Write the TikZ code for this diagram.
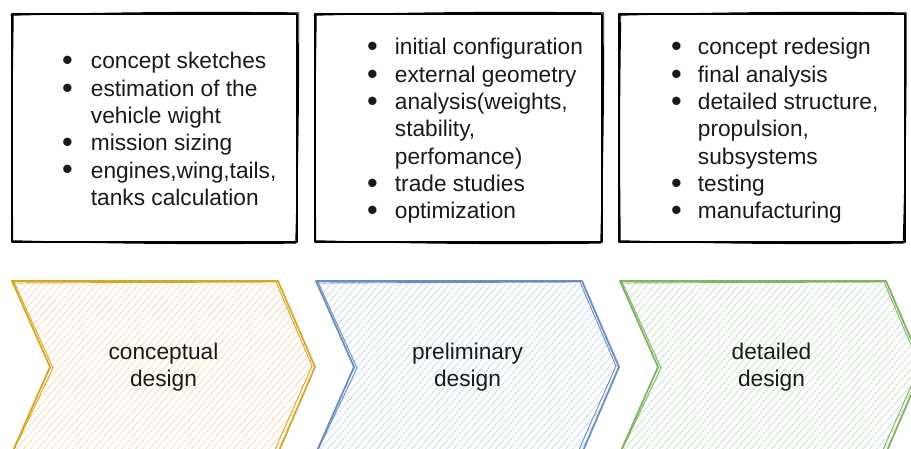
\documentclass[tikz,border=0pt]{standalone}
\usepackage{graphicx}
\usepackage{fontspec}
\setmainfont{Liberation Sans}
\definecolor{ystroke}{HTML}{D6A82A}
\definecolor{yhatch}{HTML}{FADDB8}
\definecolor{bstroke}{HTML}{6C8EBF}
\definecolor{bhatch}{HTML}{CCDDF3}
\definecolor{gstroke}{HTML}{82B366}
\definecolor{ghatch}{HTML}{CDE5C9}
\definecolor{txt}{HTML}{1A1A1A}
\tikzset{
  boxnode/.style={minimum height=228pt, inner sep=0pt, draw=none},
  sk/.style={line width=1.8pt, line join=round, line cap=round},
  sktwo/.style={line width=0.9pt, line join=round, line cap=round},
  listtxt/.style={inner sep=0pt, anchor=base west, text=txt, font=\fontsize{22.7}{27.3}\selectfont},
  chevlbl/.style={inner sep=0pt, align=center, text=txt, font=\fontsize{22.7}{27.6}\selectfont},
  hatchline/.style={line width=0.9pt},
}
\newcommand{\dotb}{\raisebox{-1.8pt}{\scalebox{1.35}{\textbullet}}}
\newcommand{\skbox}[1]{%
  \draw[sk] (#1.north west) -- (#1.north east) -- (#1.south east) -- (#1.south west) -- cycle;
  \draw[sktwo] ([shift={(-1,1.5)}]#1.north west) to[bend left=1] ([shift={(1.5,-1)}]#1.north east)
     to[bend left=0.8] ([shift={(-1.5,1)}]#1.south east) to[bend left=1] ([shift={(1,-1.5)}]#1.south west)
     to[bend left=0.8] ([shift={(1.5,2)}]#1.north west);
}
\newcommand{\chevshape}[3]{% x0, stroke, hatch
  \begin{scope}
    \clip (#1,281) -- (#1+266,281) -- (#1+303,367) -- (#1+266,453) -- (#1,453) -- (#1+38,367) -- cycle;
    \foreach \a in {-180,-173,...,310} \draw[hatchline,#3] (#1+\a,460) -- (#1+\a+165,270);
  \end{scope}
  \draw[sk,#2,line width=1.8pt] (#1,281) -- (#1+266,281) -- (#1+303,367) -- (#1+266,453) -- (#1,453) -- (#1+38,367) -- cycle;
  \draw[sktwo,#2] (#1+1,283) -- (#1+264,282) -- (#1+300,366) -- (#1+262,452);
  \draw[sktwo,#2] (#1+2,282) -- (#1+41,368) -- (#1+1,452);
}
\begin{document}
\begin{tikzpicture}[x=1pt,y=-1pt]
  \useasboundingbox (0,0) rectangle (911,449);
  \clip (0,0) rectangle (911,449);

  % top boxes
  \node[boxnode, minimum width=285pt] (b1) at (154.5,128) {};
  \node[boxnode, minimum width=287pt] (b2) at (458.5,128) {};
  \node[boxnode, minimum width=285pt] (b3) at (762,128) {};
  \skbox{b1}
  \skbox{b2}
  \skbox{b3}

  \node[listtxt] (t1) at (62,69) {\begin{tabular}[t]{@{}l@{\hspace{18pt}}l@{}}
    \dotb & concept sketches\\
    \dotb & estimation of the\\
          & vehicle wight\\
    \dotb & mission sizing\\
    \dotb & engines,wing,tails,\\
          & tanks calculation
  \end{tabular}};
  \node[listtxt] (t2) at (367,55) {\begin{tabular}[t]{@{}l@{\hspace{17pt}}l@{}}
    \dotb & initial configuration\\
    \dotb & external geometry\\
    \dotb & analysis(weights,\\
          & stability,\\
          & perfomance)\\
    \dotb & trade studies\\
    \dotb & optimization
  \end{tabular}};
  \node[listtxt] (t3) at (671,55) {\begin{tabular}[t]{@{}l@{\hspace{16pt}}l@{}}
    \dotb & concept redesign\\
    \dotb & final analysis\\
    \dotb & detailed structure,\\
          & propulsion,\\
          & subsystems\\
    \dotb & testing\\
    \dotb & manufacturing
  \end{tabular}};

  % chevrons
  \chevshape{12}{ystroke}{yhatch}
  \chevshape{316}{bstroke}{bhatch}
  \chevshape{620}{gstroke}{ghatch}

  \node[chevlbl] (c1) at (163.5,367) {conceptual\\design};
  \node[chevlbl] (c2) at (467.5,367) {preliminary\\design};
  \node[chevlbl] (c3) at (771.5,367) {detailed\\design};
\end{tikzpicture}
\end{document}
